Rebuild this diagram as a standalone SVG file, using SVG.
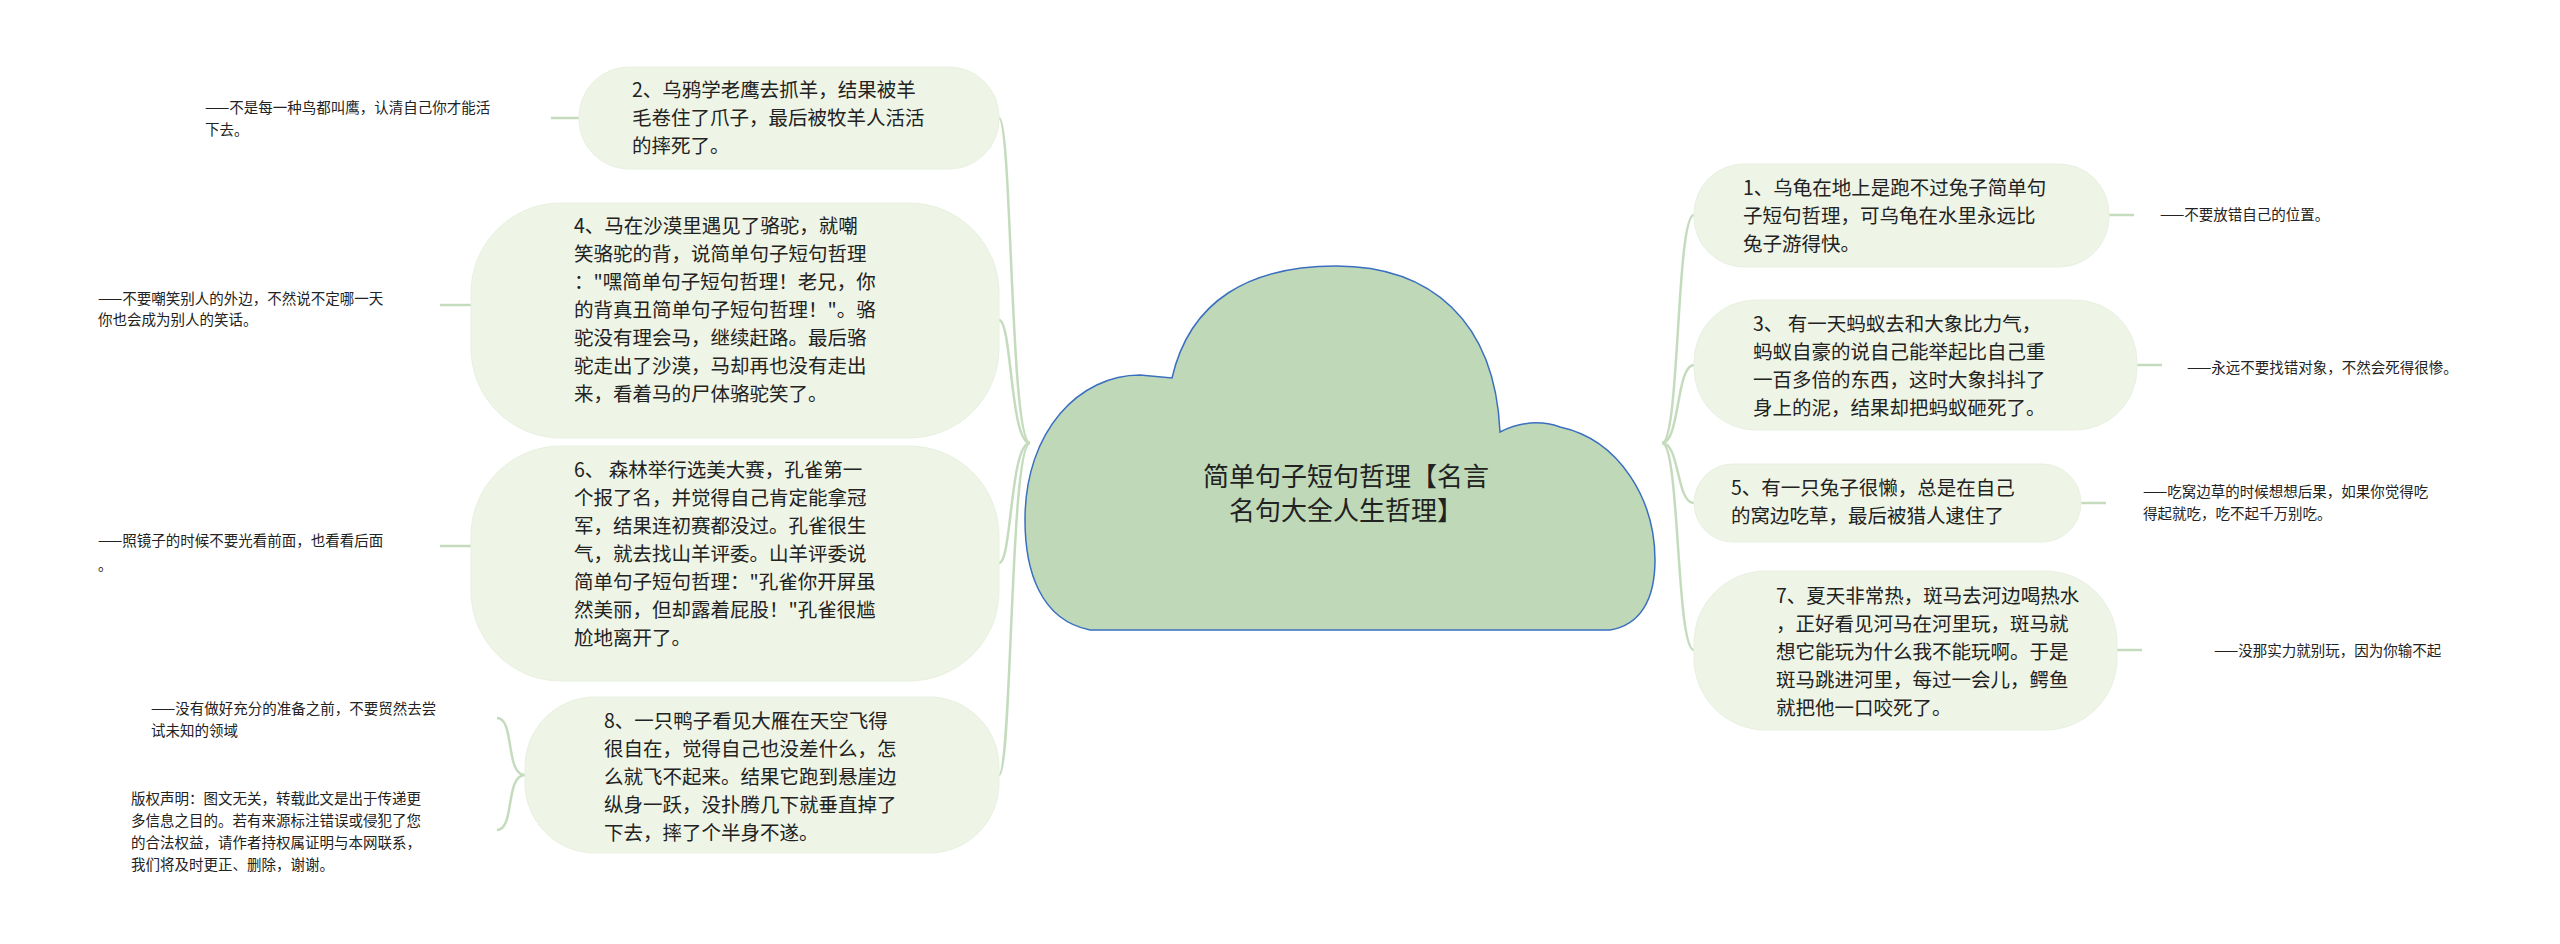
<svg xmlns="http://www.w3.org/2000/svg" width="2560" height="944" viewBox="0 0 2560 944">
<style>
.n{fill:#eef5e6;stroke:#e8f0e0;stroke-width:1}
.t{font-family:"Noto Sans CJK SC","Noto Sans",sans-serif;font-size:19.5px;fill:#222}
.l{font-family:"Noto Sans CJK SC","Noto Sans",sans-serif;font-size:14.5px;fill:#222}
.c{fill:none;stroke:#c4dcbd;stroke-width:2.5}
</style>
<rect width="2560" height="944" fill="#fff"/>
<g id="connectors">
<path class="c" d="M1030 443 C1010 443 1012 118 999 118"/>
<path class="c" d="M1030 443 C1010 443 1012 320 999 320"/>
<path class="c" d="M1030 443 C1010 443 1012 563 999 563"/>
<path class="c" d="M1030 443 C1010 443 1012 775 999 775"/>
<path class="c" d="M1662 443 C1680 443 1676 215 1694 215"/>
<path class="c" d="M1662 443 C1680 443 1676 365 1694 365"/>
<path class="c" d="M1662 443 C1680 443 1676 503 1694 503"/>
<path class="c" d="M1662 443 C1680 443 1676 650 1694 650"/>
<path class="c" d="M579 118 L551 118"/>
<path class="c" d="M471 305 L440 305"/>
<path class="c" d="M471 546 L440 546"/>
<path class="c" d="M525 775 C505 775 515 718 497 718"/>
<path class="c" d="M525 775 C505 775 515 830 497 830"/>
<path class="c" d="M2109 215 L2134 215"/>
<path class="c" d="M2137 365 L2162 365"/>
<path class="c" d="M2081 503 L2106 503"/>
<path class="c" d="M2117 650 L2142 650"/>
</g>
<g id="center">
<path d="M1090 630 C1040 620 1025 570 1025 520 C1025 430 1080 375 1140 375 L1172 378 C1190 300 1250 266 1336 266 C1430 266 1495 320 1500 432 C1520 422 1540 420 1560 427 C1620 440 1655 500 1655 560 C1655 600 1640 625 1610 630 Z" fill="#bfd9b8" stroke="#3a6fc0" stroke-width="1.5"/>
<text x="1346" y="486" text-anchor="middle" font-family="'Noto Sans CJK SC','Noto Sans',sans-serif" font-size="26" fill="#222">简单句子短句哲理【名言</text>
<text x="1346" y="520" text-anchor="middle" font-family="'Noto Sans CJK SC','Noto Sans',sans-serif" font-size="26" fill="#222">名句大全人生哲理】</text>
</g>
<g id="n2"><rect class="n" x="579" y="67" width="420" height="102" rx="50"/>
<text class="t" x="632" y="97">2、乌鸦学老鹰去抓羊，结果被羊</text><text class="t" x="632" y="125">毛卷住了爪子，最后被牧羊人活活</text><text class="t" x="632" y="153">的摔死了。</text></g>
<g id="n4"><rect class="n" x="471" y="203" width="528" height="235" rx="90"/>
<text class="t" x="574" y="233">4、马在沙漠里遇见了骆驼，就嘲</text><text class="t" x="574" y="261">笑骆驼的背，说简单句子短句哲理</text><text class="t" x="574" y="289">："嘿简单句子短句哲理！老兄，你</text><text class="t" x="574" y="317">的背真丑简单句子短句哲理！"。骆</text><text class="t" x="574" y="345">驼没有理会马，继续赶路。最后骆</text><text class="t" x="574" y="373">驼走出了沙漠，马却再也没有走出</text><text class="t" x="574" y="401">来，看着马的尸体骆驼笑了。</text></g>
<g id="n6"><rect class="n" x="471" y="446" width="528" height="235" rx="90"/>
<text class="t" x="574" y="477">6、 森林举行选美大赛，孔雀第一</text><text class="t" x="574" y="505">个报了名，并觉得自己肯定能拿冠</text><text class="t" x="574" y="533">军，结果连初赛都没过。孔雀很生</text><text class="t" x="574" y="561">气，就去找山羊评委。山羊评委说</text><text class="t" x="574" y="589">简单句子短句哲理："孔雀你开屏虽</text><text class="t" x="574" y="617">然美丽，但却露着屁股！"孔雀很尴</text><text class="t" x="574" y="645">尬地离开了。</text></g>
<g id="n8"><rect class="n" x="525" y="697" width="474" height="156" rx="70"/>
<text class="t" x="604" y="728">8、一只鸭子看见大雁在天空飞得</text><text class="t" x="604" y="756">很自在，觉得自己也没差什么，怎</text><text class="t" x="604" y="784">么就飞不起来。结果它跑到悬崖边</text><text class="t" x="604" y="812">纵身一跃，没扑腾几下就垂直掉了</text><text class="t" x="604" y="840">下去，摔了个半身不遂。</text></g>
<g id="n1"><rect class="n" x="1694" y="164" width="415" height="103" rx="50"/>
<text class="t" x="1743" y="195">1、乌龟在地上是跑不过兔子简单句</text><text class="t" x="1743" y="223">子短句哲理，可乌龟在水里永远比</text><text class="t" x="1743" y="251">兔子游得快。</text></g>
<g id="n3"><rect class="n" x="1694" y="300" width="443" height="130" rx="62"/>
<text class="t" x="1753" y="331">3、 有一天蚂蚁去和大象比力气，</text><text class="t" x="1753" y="359">蚂蚁自豪的说自己能举起比自己重</text><text class="t" x="1753" y="387">一百多倍的东西，这时大象抖抖了</text><text class="t" x="1753" y="415">身上的泥，结果却把蚂蚁砸死了。</text></g>
<g id="n5"><rect class="n" x="1694" y="464" width="387" height="78" rx="39"/>
<text class="t" x="1731" y="495">5、有一只兔子很懒，总是在自己</text><text class="t" x="1731" y="523">的窝边吃草，最后被猎人逮住了</text></g>
<g id="n7"><rect class="n" x="1694" y="571" width="423" height="159" rx="72"/>
<text class="t" x="1776" y="603">7、夏天非常热，斑马去河边喝热水</text><text class="t" x="1776" y="631">，正好看见河马在河里玩，斑马就</text><text class="t" x="1776" y="659">想它能玩为什么我不能玩啊。于是</text><text class="t" x="1776" y="687">斑马跳进河里，每过一会儿，鳄鱼</text><text class="t" x="1776" y="715">就把他一口咬死了。</text></g>
<g id="leaf2"><text class="l" x="205" y="113">——不是每一种鸟都叫鹰，认清自己你才能活</text><text class="l" x="205" y="135">下去。</text></g>
<g id="leaf4"><text class="l" x="98" y="304">——不要嘲笑别人的外边，不然说不定哪一天</text><text class="l" x="98" y="325">你也会成为别人的笑话。</text></g>
<g id="leaf6"><text class="l" x="98" y="546">——照镜子的时候不要光看前面，也看看后面</text><text class="l" x="98" y="570">。</text></g>
<g id="leaf8"><text class="l" x="151" y="714">——没有做好充分的准备之前，不要贸然去尝</text><text class="l" x="151" y="736">试未知的领域</text></g>
<g id="leaf8b"><text class="l" x="131" y="804">版权声明：图文无关，转载此文是出于传递更</text><text class="l" x="131" y="826">多信息之目的。若有来源标注错误或侵犯了您</text><text class="l" x="131" y="848">的合法权益，请作者持权属证明与本网联系，</text><text class="l" x="131" y="870">我们将及时更正、删除，谢谢。</text></g>
<g id="leaf1"><text class="l" x="2160" y="220">——不要放错自己的位置。</text></g>
<g id="leaf3"><text class="l" x="2187" y="373">——永远不要找错对象，不然会死得很惨。</text></g>
<g id="leaf5"><text class="l" x="2143" y="497">——吃窝边草的时候想想后果，如果你觉得吃</text><text class="l" x="2143" y="519">得起就吃，吃不起千万别吃。</text></g>
<g id="leaf7"><text class="l" x="2214" y="656">——没那实力就别玩，因为你输不起</text></g>
</svg>
